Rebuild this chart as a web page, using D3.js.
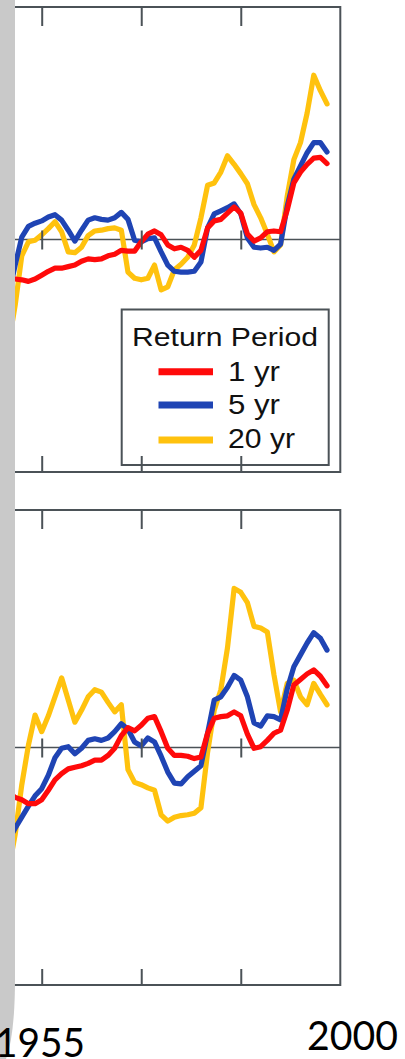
<!DOCTYPE html>
<html>
<head>
<meta charset="utf-8">
<script src="https://cdn.jsdelivr.net/npm/d3@7"></script>
<style>
  html, body { margin: 0; padding: 0; background: #ffffff; }
  svg { display: block; }
</style>
</head>
<body>
<svg id="chart" width="405" height="1059"></svg>
<script>
// Years sampled for every series (one value per year)
const years = d3.range(1950, 1999);

// Upper panel: change relative to baseline, by return period
const upper1yr = [-5.0, -5.1, -5.2, -5.4, -5.1, -4.6, -4.1, -3.7, -3.7, -3.5,
  -3.3, -2.8, -2.5, -2.6, -2.5, -2.1, -1.9, -1.4, -1.5, -1.5,
  -0.3, 0.7, 1.1, 0.6, -0.7, -1.2, -1.0, -1.4, -2.3, -1.4,
  1.5, 2.4, 2.6, 3.4, 4.2, 3.4, 0.7, -0.2, 0.2, 1.0,
  1.1, 1.0, 3.8, 7.3, 8.7, 9.7, 10.5, 10.6, 9.8];
const upper5yr = [-7.2, -3.3, 0.3, 1.7, 2.1, 2.4, 2.9, 3.2, 2.5, 1.2,
  -0.2, 1.2, 2.5, 2.8, 2.6, 2.5, 2.8, 3.5, 2.6, -0.1,
  -0.3, 0.1, 0.2, -1.6, -3.3, -4.1, -4.2, -4.2, -4.1, -2.9,
  1.5, 3.3, 3.7, 4.1, 4.6, 3.3, 0.2, -1.0, -1.1, -1.0,
  -1.4, -0.6, 4.3, 7.8, 9.5, 11.2, 12.5, 12.5, 11.3];
const upper20yr = [-13.6, -8.5, -2.1, -0.3, -0.1, 0.6, 1.4, 2.3, 1.0, -1.6,
  -1.7, -1.0, 0.5, 1.1, 1.2, 1.4, 1.5, 1.2, -4.2, -5.0,
  -5.2, -5.0, -3.3, -6.5, -6.1, -3.9, -3.2, -2.3, -0.7, 2.8,
  7.0, 7.3, 8.7, 10.8, 9.7, 8.5, 7.2, 4.5, 2.8, 0.7,
  -1.6, -0.7, 5.6, 10.3, 12.5, 16.3, 21.2, 19.2, 17.5];

// Lower panel
const lower1yr = [-5.7, -6.3, -6.6, -7.1, -7.1, -6.6, -5.4, -4.1, -3.3, -2.7,
  -2.5, -2.3, -2.0, -1.6, -1.6, -1.0, -0.1, 1.5, 2.5, 2.1,
  2.8, 3.7, 3.9, 2.0, -0.1, -1.0, -1.0, -1.1, -1.4, -1.2,
  1.8, 3.7, 3.9, 4.0, 4.5, 4.0, 1.7, -0.1, 0.1, 0.9,
  1.8, 2.2, 4.7, 7.9, 8.6, 9.3, 9.8, 9.0, 7.8];
const lower5yr = [-11.7, -10.2, -8.8, -7.4, -6.1, -5.2, -3.5, -1.3, -0.1, 0.1,
  -0.8, -0.1, 0.9, 1.1, 0.9, 1.2, 2.0, 3.0, 2.3, 0.7,
  0.2, 1.2, 0.7, -1.1, -3.1, -4.5, -4.6, -3.7, -3.0, -2.3,
  1.8, 6.0, 6.4, 7.6, 9.1, 8.5, 6.4, 3.1, 2.7, 4.0,
  3.9, 3.5, 7.4, 10.2, 11.7, 13.2, 14.5, 13.8, 12.3];
const lower20yr = [-15.5, -11.0, -4.7, 0.3, 4.1, 2.0, 4.0, 6.4, 8.8, 6.0,
  3.2, 4.7, 6.4, 7.3, 7.0, 5.7, 4.5, 5.4, -2.8, -4.4,
  -4.7, -5.1, -5.4, -8.5, -9.3, -8.8, -8.6, -8.5, -8.3, -7.6,
  -0.6, 4.7, 7.3, 12.6, 20.1, 19.6, 18.3, 15.3, 15.1, 14.6,
  9.2, 4.5, 8.1, 8.5, 6.4, 5.4, 8.1, 6.7, 5.4];

// Legend entries and axis labels
const periods = ["1 yr", "5 yr", "20 yr"];
const periodColors = ["#ff0a0a", "#1f44b4", "#ffc20e"];
const tickYears = [1955, 1970, 1985];
const axisLabels = ["1955", "2000"];

const svg = d3.select("#chart");
const frameColor = "#4b5257";

const x = d3.scaleLinear().domain([1955, 2000]).range([41.7, 340.3]);
const xLeft = 0;

function drawPanel(top, bottom, series, withLegend) {
  const y = d3.scaleLinear().domain([-30, 30]).range([bottom, top]);
  const g = svg.append("g");

  // zero reference line
  g.append("line")
    .attr("x1", xLeft).attr("x2", x(2000))
    .attr("y1", y(0)).attr("y2", y(0))
    .attr("stroke", frameColor).attr("stroke-width", 1.6);

  // series, widest-ranging drawn first
  const line = d3.line().x((d, i) => x(years[i])).y(d => y(d));
  const order = [2, 1, 0];
  order.forEach(k => {
    g.append("path")
      .datum(series[k])
      .attr("d", line)
      .attr("fill", "none")
      .attr("stroke", periodColors[k])
      .attr("stroke-width", 5.2)
      .attr("stroke-linejoin", "round")
      .attr("stroke-linecap", "round");
  });

  // frame
  g.append("path")
    .attr("d", `M${xLeft},${top}H${x(2000)}V${bottom}H${xLeft}`)
    .attr("fill", "none")
    .attr("stroke", frameColor).attr("stroke-width", 2);

  // tick marks along top, zero line and bottom
  const tickAxis = (axisFn, size) => axisFn(x).tickValues(tickYears).tickFormat("").tickSize(size);
  const styleAxis = sel => {
    sel.select(".domain").remove();
    sel.selectAll(".tick line").attr("stroke", frameColor).attr("stroke-width", 2);
  };
  g.append("g").attr("transform", `translate(0,${top})`)
    .call(tickAxis(d3.axisBottom, 19)).call(styleAxis);
  g.append("g").attr("transform", `translate(0,${y(0) - 9})`)
    .call(tickAxis(d3.axisBottom, 19)).call(styleAxis);
  g.append("g").attr("transform", `translate(0,${bottom})`)
    .call(tickAxis(d3.axisTop, 16)).call(styleAxis);

  if (withLegend) {
    const lg = g.append("g");
    lg.append("rect")
      .attr("x", 121.7).attr("y", 309.5)
      .attr("width", 207).attr("height", 155.5)
      .attr("fill", "none")
      .attr("stroke", frameColor).attr("stroke-width", 2);
    lg.append("text")
      .attr("x", 132).attr("y", 345.5)
      .attr("font-family", "Liberation Sans, Arial, sans-serif")
      .attr("font-size", 26)
      .attr("fill", "#111")
      .attr("textLength", 186).attr("lengthAdjust", "spacingAndGlyphs")
      .text("Return Period");
    const rowY = [371.7, 405, 440];
    const rowBase = [381, 414, 448];
    const rowWidth = [52, 52, 67];
    periods.forEach((p, i) => {
      lg.append("line")
        .attr("x1", 158.5).attr("x2", 213)
        .attr("y1", rowY[i]).attr("y2", rowY[i])
        .attr("stroke", periodColors[i]).attr("stroke-width", 7);
      lg.append("text")
        .attr("x", 228).attr("y", rowBase[i])
        .attr("font-family", "Liberation Sans, Arial, sans-serif")
        .attr("font-size", 28)
        .attr("fill", "#111")
        .attr("textLength", rowWidth[i]).attr("lengthAdjust", "spacingAndGlyphs")
        .text(p);
    });
  }
}

drawPanel(7, 472, [upper1yr, upper5yr, upper20yr], true);
drawPanel(510, 985, [lower1yr, lower5yr, lower20yr], false);

// grey side panel with rounded lower corner
svg.append("path")
  .attr("d", "M0,0 H15 V978 Q15,1035 6,1059 H0 Z")
  .attr("fill", "#c9c9c9");

// year labels below the lower panel (drawn over the side panel)
svg.append("text")
  .attr("x", 85).attr("y", 1057)
  .attr("text-anchor", "end")
  .attr("font-family", "Lato, 'Open Sans', sans-serif")
  .attr("font-size", 40)
  .attr("fill", "#000")
  .attr("textLength", 90).attr("lengthAdjust", "spacingAndGlyphs")
  .text(axisLabels[0]);
svg.append("text")
  .attr("x", 307).attr("y", 1050)
  .attr("font-family", "Lato, 'Open Sans', sans-serif")
  .attr("font-size", 40)
  .attr("fill", "#000")
  .attr("textLength", 91).attr("lengthAdjust", "spacingAndGlyphs")
  .text(axisLabels[1]);
</script>
</body>
</html>
